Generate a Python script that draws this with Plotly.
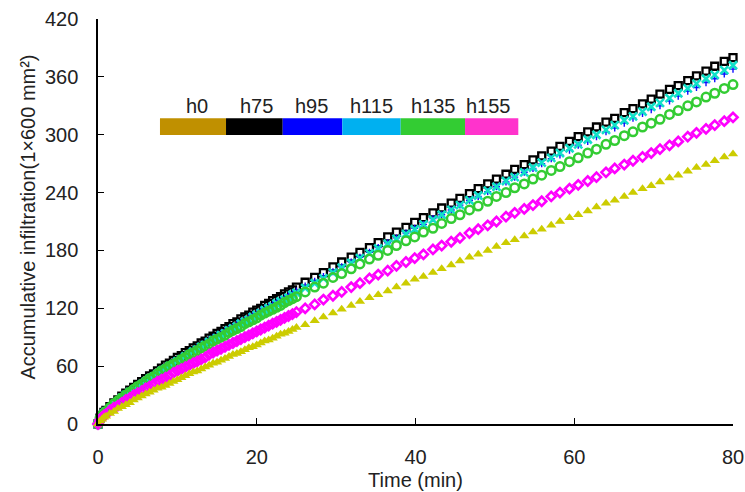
import plotly.graph_objects as go

# ---- data ----
time_min = [0, 0.25, 0.5, 0.75, 1, 1.5, 2, 2.5, 3, 3.5, 4, 4.5, 5, 5.5, 6, 6.5, 7, 7.5, 8, 8.5,
            9, 9.5, 10, 10.5, 11, 11.5, 12, 12.5, 13, 13.5, 14, 14.5, 15, 15.5, 16, 16.5, 17, 17.5,
            18, 18.5, 19, 19.5, 20, 20.5, 21, 21.5, 22, 22.5, 23, 23.5, 24, 24.5, 25,
            26.1, 27.3, 28.4, 29.6, 30.7, 31.9, 33.0, 34.2, 35.3, 36.5, 37.6, 38.8, 39.9, 41.0,
            42.2, 43.3, 44.5, 45.6, 46.8, 47.9, 49.1, 50.2, 51.4, 52.5, 53.7, 54.8, 55.9, 57.1,
            58.2, 59.4, 60.5, 61.7, 62.8, 64.0, 65.1, 66.3, 67.4, 68.6, 69.7, 70.8, 72.0, 73.1,
            74.3, 75.4, 76.6, 77.7, 78.9, 80.0]

h0 = [0, 3, 5, 7, 8, 11, 13, 16, 18, 20, 22, 25, 27, 29, 31, 33, 35, 37, 38, 40,
      42, 44, 46, 48, 50, 52, 54, 55, 57, 59, 61, 63, 64, 66, 68, 70, 72, 73,
      75, 77, 79, 80, 82, 84, 86, 87, 89, 91, 93, 94, 96, 98, 100,
      103, 107, 111, 115, 119, 123, 127, 131, 134, 138, 142, 146, 150, 153,
      157, 161, 165, 169, 173, 176, 180, 184, 188, 191, 195, 199, 202, 206,
      210, 214, 217, 221, 225, 229, 232, 236, 240, 244, 247, 251, 255, 258,
      262, 266, 269, 273, 277, 280]

h75 = [0, 6, 9, 12, 14, 18, 22, 25, 29, 32, 35, 38, 41, 44, 47, 50, 52, 55, 58, 61,
       63, 66, 69, 71, 74, 76, 79, 81, 84, 86, 89, 91, 94, 96, 99, 101, 104, 106,
       109, 111, 113, 116, 118, 120, 123, 125, 128, 130, 132, 135, 137, 139, 142,
       147, 152, 157, 163, 168, 173, 178, 183, 188, 194, 199, 204, 209, 214,
       219, 224, 229, 234, 239, 244, 249, 254, 259, 264, 269, 274, 278, 283,
       288, 293, 298, 303, 308, 313, 317, 323, 327, 332, 337, 342, 347, 351,
       356, 361, 366, 371, 376, 380]

h95 = [0, 6, 9, 12, 14, 18, 22, 25, 28, 32, 35, 38, 41, 43, 46, 49, 52, 54, 57, 60,
       62, 65, 67, 70, 72, 75, 77, 80, 82, 85, 87, 90, 92, 94, 97, 99, 101, 104,
       106, 108, 111, 113, 115, 118, 120, 122, 124, 127, 129, 131, 134, 136, 138,
       143, 148, 153, 158, 163, 168, 173, 178, 183, 188, 193, 198, 203, 207,
       213, 217, 222, 227, 232, 236, 241, 246, 251, 256, 261, 265, 270, 275,
       279, 284, 289, 293, 298, 303, 307, 312, 317, 322, 326, 330, 335, 340,
       345, 349, 354, 358, 363, 368]

h115 = [0, 5, 8, 11, 13, 16, 20, 23, 27, 30, 33, 35, 38, 41, 44, 47, 49, 52, 55, 57,
        60, 62, 65, 67, 70, 72, 75, 77, 80, 82, 85, 87, 89, 92, 94, 97, 99, 101,
        104, 106, 108, 111, 113, 115, 118, 120, 122, 125, 127, 129, 131, 134, 136,
        141, 146, 151, 157, 162, 167, 172, 177, 182, 187, 192, 197, 202, 207,
        212, 217, 222, 227, 232, 237, 242, 246, 252, 256, 261, 266, 271, 276,
        281, 286, 290, 295, 300, 305, 310, 315, 319, 324, 329, 333, 338, 343,
        348, 353, 358, 362, 367, 372]

h135 = [0, 6, 9, 11, 13, 17, 21, 24, 27, 30, 33, 36, 39, 41, 44, 47, 49, 52, 55, 57,
        60, 62, 64, 67, 69, 72, 74, 76, 79, 81, 83, 86, 88, 90, 92, 95, 97, 99,
        101, 104, 106, 108, 110, 113, 115, 117, 119, 121, 123, 126, 128, 130, 132,
        137, 142, 146, 152, 156, 161, 166, 171, 175, 180, 185, 190, 194, 199,
        203, 208, 213, 217, 222, 226, 231, 236, 240, 245, 249, 254, 258, 263,
        267, 272, 276, 281, 285, 290, 294, 299, 303, 308, 312, 316, 321, 325,
        330, 334, 339, 343, 348, 352]

h155 = [0, 4, 7, 9, 10, 14, 17, 19, 22, 25, 27, 30, 32, 34, 37, 39, 41, 44, 46, 48,
        50, 53, 55, 57, 59, 61, 63, 65, 67, 69, 72, 74, 76, 78, 80, 82, 84, 86,
        88, 90, 92, 94, 96, 98, 100, 102, 104, 106, 108, 110, 112, 114, 116,
        120, 124, 129, 133, 137, 142, 146, 151, 155, 159, 164, 168, 172, 176,
        181, 185, 189, 193, 198, 202, 206, 210, 215, 219, 223, 227, 231, 236,
        240, 244, 248, 252, 256, 261, 265, 269, 273, 277, 281, 285, 289, 293,
        298, 302, 306, 310, 314, 318]

legend_labels = ["h0", "h75", "h95", "h115", "h135", "h155"]
y_ticks = [0, 60, 120, 180, 240, 300, 360, 420]
x_ticks = [0, 20, 40, 60, 80]
y_title = "Accumulative infiltration(1×600 mm²)"
x_title = "Time (min)"

# ---- styles ----
FONT = "Liberation Sans, Arial, sans-serif"
TXT = "#222222"
series = [
    # (name, values, marker symbol, color, size, line width) ; draw order
    ("h75", h75, "square-open", "#000000", 7, 2.3),
    ("h95", h95, "cross-thin", "#1010FF", 5, 1.4),
    ("h115", h115, "x-thin", "#10E0C8", 8, 2.6),
    ("h135", h135, "circle-open", "#33CC33", 8.5, 2.5),
    ("h155", h155, "diamond-open", "#FF00FF", 7, 2.6),
    ("h0", h0, "triangle-up", "#CCCC00", 9, 0),
]

fig = go.Figure()
for name, vals, sym, col, size, lw in series:
    marker = dict(symbol=sym, size=size, color=col)
    if lw:
        marker["line"] = dict(color=col, width=lw)
    else:
        marker["line"] = dict(width=0)
    fig.add_trace(go.Scatter(x=time_min, y=vals, mode="markers", name=name,
                             marker=marker, cliponaxis=False, showlegend=False))

# ---- colour-bar style legend (paper coordinates) ----
legend_colors = ["#C09000", "#000000", "#0000FF", "#00B0F0", "#33CC33", "#FF33CC"]
legend_edges = [0.0976, 0.2016, 0.2909, 0.3847, 0.4767, 0.5780, 0.6619]
legend_text_x = [0.1554, 0.2498, 0.3365, 0.4310, 0.5280, 0.6146]
for i, lab in enumerate(legend_labels):
    fig.add_shape(type="rect", xref="paper", yref="paper",
                  x0=legend_edges[i], x1=legend_edges[i + 1], y0=0.7136, y1=0.7548,
                  fillcolor=legend_colors[i], line=dict(width=0), layer="above")
    fig.add_annotation(xref="paper", yref="paper", x=legend_text_x[i], y=0.7859,
                       text=lab, showarrow=False, xanchor="center", yanchor="middle",
                       font=dict(family=FONT, size=20, color=TXT))

# y tick labels drawn as annotations at the y-axis tick values (further from the axis)
for v in y_ticks:
    fig.add_annotation(xref="paper", yref="y", x=-0.028, y=v, text=str(v),
                       showarrow=False, xanchor="right", yanchor="middle",
                       font=dict(family=FONT, size=20, color=TXT))

# y-axis title placed as a rotated annotation
fig.add_annotation(xref="paper", yref="paper", x=-0.110, y=0.51, text=y_title,
                   textangle=-90, showarrow=False, xanchor="center", yanchor="middle",
                   font=dict(family=FONT, size=20, color=TXT))

fig.update_layout(
    width=745, height=492,
    margin=dict(l=98, r=12, t=19, b=68),
    paper_bgcolor="white", plot_bgcolor="white",
    font=dict(family=FONT, size=20, color=TXT),
    showlegend=False,
)
fig.update_xaxes(range=[0, 80], tickvals=x_ticks, showgrid=False, zeroline=False,
                 automargin=False,
                 showline=True, linecolor="black", linewidth=1.6,
                 ticks="inside", ticklen=6, tickcolor="black", tickwidth=1.2,
                 ticklabelstandoff=14,
                 title=dict(text=x_title, font=dict(size=20), standoff=6))
fig.update_yaxes(range=[0, 420], tickvals=y_ticks, showgrid=False, zeroline=False,
                 automargin=False, showticklabels=False,
                 showline=True, linecolor="black", linewidth=1.6,
                 ticks="inside", ticklen=6, tickcolor="black", tickwidth=1.2)

# remove the page's default 8px body margin so the figure fills the window exactly
fig.write_html("out.html", config={"displayModeBar": False},
               post_script="document.body.style.margin='0';document.body.style.overflow='hidden';")
